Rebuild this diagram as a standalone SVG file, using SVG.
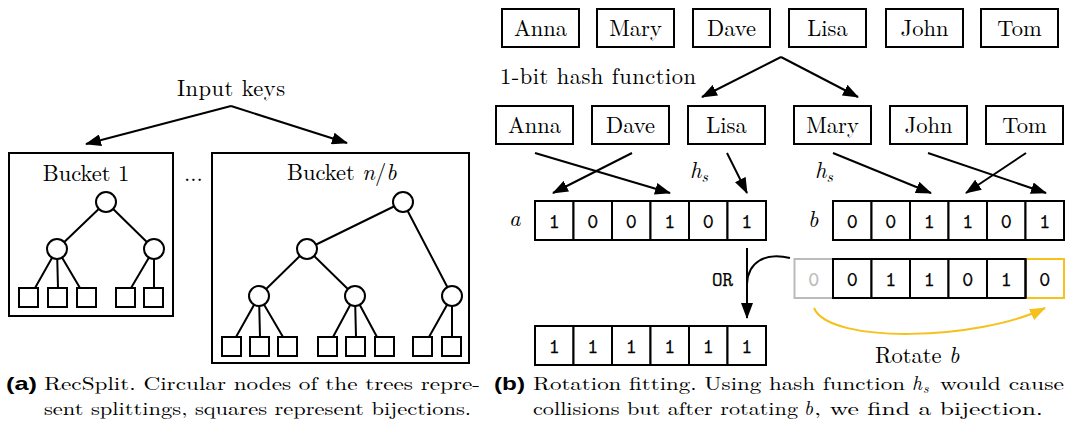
<svg xmlns="http://www.w3.org/2000/svg" width="1070" height="432" viewBox="0 0 1070 432">
  <style>
    .txt { font-family: "Latin Modern Roman", "Liberation Serif", serif; font-size: 22.5px; fill: #000; }
    .it { font-style: italic; }
    .sub { font-family: "Latin Modern Roman", "Liberation Serif", serif; font-style: italic; font-size: 15.5px; }
    .mono { font-family: "Latin Modern Mono", "Liberation Mono", monospace; font-size: 21px; fill: #000; stroke: #000; stroke-width: 0.25px; }
    .cap { font-family: "Latin Modern Roman", "Liberation Serif", serif; font-size: 18px; fill: #000; }
    .capit { font-family: "Latin Modern Roman", "Liberation Serif", serif; font-style: italic; font-size: 19.5px; fill: #000; }
    .capsub { font-family: "Latin Modern Roman", "Liberation Serif", serif; font-style: italic; font-size: 13.5px; fill: #000; }
    .lbl { font-family: "Liberation Sans", Arial, sans-serif; font-weight: bold; font-size: 19px; fill: #000; }
    .box { fill: #fff; stroke: #000; stroke-width: 2; }
    .node { fill: #fff; stroke: #000; stroke-width: 2; }
    .edge { fill: none; stroke: #000; stroke-width: 2; }
    .arrow { fill: none; stroke: #000; stroke-width: 2; marker-end: url(#ah); }
    .yarrow { fill: none; stroke: #F5C11A; stroke-width: 2; marker-end: url(#ahy); }
    .cell { fill: #fff; stroke: #000; stroke-width: 2; }
    .mid { text-anchor: middle; }
  </style>
  <defs>
    <marker id="ah" viewBox="0 0 16 12" refX="15" refY="6" markerWidth="16" markerHeight="12" markerUnits="userSpaceOnUse" orient="auto">
      <path d="M0,0 L16,6 L0,12 z" fill="#000"/>
    </marker>
    <marker id="ahy" viewBox="0 0 16 12" refX="15" refY="6" markerWidth="16" markerHeight="12" markerUnits="userSpaceOnUse" orient="auto">
      <path d="M0,0 L16,6 L0,12 z" fill="#F5C11A"/>
    </marker>
  </defs>

  <!-- ===== Left panel: RecSplit buckets ===== -->
  <g id="connectors-left">
    <path class="arrow" d="M231 106 L86 144"/>
    <path class="arrow" d="M231 106 L347 143"/>
  </g>

  <g id="input-keys">
    <text class="txt mid" x="231" y="96" textLength="108">Input keys</text>
  </g>

  <g id="bucket-1">
    <rect class="box" x="9" y="153" width="164" height="163"/>
    <text class="txt mid" x="86" y="181">Bucket 1</text>
    <g class="tree-edges">
      <path class="edge" d="M106 202 L57 249 M106 202 L154 249"/>
      <path class="edge" d="M57 249 L35 288 M57 249 L58 288 M57 249 L80 288"/>
      <path class="edge" d="M154 249 L131 288 M154 249 L154 288"/>
    </g>
    <circle class="node" cx="106" cy="202" r="10"/>
    <circle class="node" cx="57" cy="249" r="10"/>
    <circle class="node" cx="154" cy="249" r="10"/>
    <rect class="node" x="19" y="288" width="19" height="19"/>
    <rect class="node" x="48" y="288" width="19" height="19"/>
    <rect class="node" x="77" y="288" width="19" height="19"/>
    <rect class="node" x="116" y="288" width="19" height="19"/>
    <rect class="node" x="144" y="288" width="19" height="19"/>
  </g>

  <g id="ellipsis">
    <text class="txt" x="184" y="181">...</text>
  </g>

  <g id="bucket-nb">
    <rect class="box" x="212" y="153" width="257" height="210"/>
    <text class="txt" x="287" y="180">Bucket <tspan class="it">n</tspan>/<tspan class="it">b</tspan></text>
    <g class="tree-edges">
      <path class="edge" d="M403 202 L307 249 M403 202 L452 296"/>
      <path class="edge" d="M307 249 L259 296 M307 249 L355 296"/>
      <path class="edge" d="M259 296 L236 337 M259 296 L260 337 M259 296 L283 337"/>
      <path class="edge" d="M355 296 L333 337 M355 296 L356 337 M355 296 L377 337"/>
      <path class="edge" d="M452 296 L429 337 M452 296 L452 337"/>
    </g>
    <circle class="node" cx="403" cy="202" r="10"/>
    <circle class="node" cx="307" cy="249" r="10"/>
    <circle class="node" cx="259" cy="296" r="10"/>
    <circle class="node" cx="355" cy="296" r="10"/>
    <circle class="node" cx="452" cy="296" r="10"/>
    <rect class="node" x="222" y="337" width="19" height="19"/>
    <rect class="node" x="250" y="337" width="19" height="19"/>
    <rect class="node" x="278" y="337" width="19" height="19"/>
    <rect class="node" x="318" y="337" width="19" height="19"/>
    <rect class="node" x="346" y="337" width="19" height="19"/>
    <rect class="node" x="375" y="337" width="19" height="19"/>
    <rect class="node" x="413" y="337" width="19" height="19"/>
    <rect class="node" x="442" y="337" width="19" height="19"/>
  </g>

  <!-- ===== Right panel: rotation fitting ===== -->
  <g id="connectors-right">
    <path class="arrow" d="M781 57 L702 97"/>
    <path class="arrow" d="M781 57 L858 97"/>
    <path class="arrow" d="M535 153 L670 193"/>
    <path class="arrow" d="M632 153 L553 193"/>
    <path class="arrow" d="M727 153 L747 193"/>
    <path class="arrow" d="M833 153 L931 193"/>
    <path class="arrow" d="M928 153 L1046 193"/>
    <path class="arrow" d="M1026 153 L966 193"/>
    <path class="arrow" d="M747 248 L747 318"/>
    <path class="edge" d="M790 258 C 765 252, 748 262, 747 284"/>
    <path class="yarrow" d="M814 308 C 830 345, 980 340, 1045 308"/>
  </g>

  <g id="keys-top">
    <g id="key-anna-1"><rect class="box" x="502" y="9" width="77" height="38"/><text class="txt mid" x="540.5" y="36">Anna</text></g>
    <g id="key-mary-1"><rect class="box" x="597" y="9" width="77" height="38"/><text class="txt mid" x="635.5" y="36">Mary</text></g>
    <g id="key-dave-1"><rect class="box" x="693" y="9" width="77" height="38"/><text class="txt mid" x="731.5" y="36">Dave</text></g>
    <g id="key-lisa-1"><rect class="box" x="789" y="9" width="77" height="38"/><text class="txt mid" x="827.5" y="36">Lisa</text></g>
    <g id="key-john-1"><rect class="box" x="886" y="9" width="77" height="38"/><text class="txt mid" x="924.5" y="36">John</text></g>
    <g id="key-tom-1"><rect class="box" x="981" y="9" width="77" height="38"/><text class="txt mid" x="1019.5" y="36">Tom</text></g>
  </g>

  <g id="hash-label">
    <text class="txt" x="500" y="84" textLength="196">1-bit hash function</text>
  </g>

  <g id="keys-split">
    <g id="key-anna-2"><rect class="box" x="496" y="106" width="77" height="38"/><text class="txt mid" x="534.5" y="133">Anna</text></g>
    <g id="key-dave-2"><rect class="box" x="592" y="106" width="77" height="38"/><text class="txt mid" x="630.5" y="133">Dave</text></g>
    <g id="key-lisa-2"><rect class="box" x="688" y="106" width="77" height="38"/><text class="txt mid" x="726.5" y="133">Lisa</text></g>
    <g id="key-mary-2"><rect class="box" x="794" y="106" width="77" height="38"/><text class="txt mid" x="832.5" y="133">Mary</text></g>
    <g id="key-john-2"><rect class="box" x="890" y="106" width="77" height="38"/><text class="txt mid" x="928.5" y="133">John</text></g>
    <g id="key-tom-2"><rect class="box" x="986" y="106" width="77" height="38"/><text class="txt mid" x="1024.5" y="133">Tom</text></g>
  </g>

  <g id="hs-labels">
    <text class="txt it" x="690" y="178">h<tspan class="sub" dy="4">s</tspan></text>
    <text class="txt it" x="815" y="178">h<tspan class="sub" dy="4">s</tspan></text>
  </g>

  <!-- bit array a -->
  <g id="array-a">
    <text class="txt it" x="509" y="226">a</text>
    <rect class="cell" x="535" y="201" width="38.5" height="39"/>
    <rect class="cell" x="573.5" y="201" width="38.5" height="39"/>
    <rect class="cell" x="612" y="201" width="38.5" height="39"/>
    <rect class="cell" x="650.5" y="201" width="38.5" height="39"/>
    <rect class="cell" x="689" y="201" width="38.5" height="39"/>
    <rect class="cell" x="727.5" y="201" width="38.5" height="39"/>
    <text class="mono mid" x="554.25" y="227.5">1</text>
    <text class="mono mid" x="592.75" y="227.5">0</text>
    <text class="mono mid" x="631.25" y="227.5">0</text>
    <text class="mono mid" x="669.75" y="227.5">1</text>
    <text class="mono mid" x="708.25" y="227.5">0</text>
    <text class="mono mid" x="746.75" y="227.5">1</text>
  </g>

  <!-- bit array b -->
  <g id="array-b">
    <text class="txt it" x="808" y="227">b</text>
    <rect class="cell" x="833" y="201" width="38.5" height="39"/>
    <rect class="cell" x="871.5" y="201" width="38.5" height="39"/>
    <rect class="cell" x="910" y="201" width="38.5" height="39"/>
    <rect class="cell" x="948.5" y="201" width="38.5" height="39"/>
    <rect class="cell" x="987" y="201" width="38.5" height="39"/>
    <rect class="cell" x="1025.5" y="201" width="38.5" height="39"/>
    <text class="mono mid" x="852.25" y="227.5">0</text>
    <text class="mono mid" x="890.75" y="227.5">0</text>
    <text class="mono mid" x="929.25" y="227.5">1</text>
    <text class="mono mid" x="967.75" y="227.5">1</text>
    <text class="mono mid" x="1006.25" y="227.5">0</text>
    <text class="mono mid" x="1044.75" y="227.5">1</text>
  </g>

  <!-- rotated copy of b -->
  <g id="array-b-rotated">
    <rect x="794.5" y="259" width="38.5" height="39" fill="#fff" stroke="#BBBBBB" stroke-width="2"/>
    <rect x="1025.5" y="259" width="38.5" height="39" fill="#fff" stroke="#F5C11A" stroke-width="2"/>
    <rect class="cell" x="833" y="259" width="38.5" height="39"/>
    <rect class="cell" x="871.5" y="259" width="38.5" height="39"/>
    <rect class="cell" x="910" y="259" width="38.5" height="39"/>
    <rect class="cell" x="948.5" y="259" width="38.5" height="39"/>
    <rect class="cell" x="987" y="259" width="38.5" height="39"/>
    <path d="M1025.5 259 L1025.5 298" stroke="#000" stroke-width="2"/>
    <text class="mono mid" x="813.75" y="285.5" style="fill:#BBBBBB;stroke:#BBBBBB">0</text>
    <text class="mono mid" x="852.25" y="285.5">0</text>
    <text class="mono mid" x="890.75" y="285.5">1</text>
    <text class="mono mid" x="929.25" y="285.5">1</text>
    <text class="mono mid" x="967.75" y="285.5">0</text>
    <text class="mono mid" x="1006.25" y="285.5">1</text>
    <text class="mono mid" x="1044.75" y="285.5">0</text>
  </g>

  <g id="or-label">
    <text class="mono" x="712" y="286" style="font-size:20px">OR</text>
  </g>

  <g id="rotate-label">
    <text class="txt" x="875" y="363">Rotate <tspan class="it">b</tspan></text>
  </g>

  <!-- result of a OR rotated b -->
  <g id="array-result">
    <rect class="cell" x="535" y="326" width="38.5" height="39"/>
    <rect class="cell" x="573.5" y="326" width="38.5" height="39"/>
    <rect class="cell" x="612" y="326" width="38.5" height="39"/>
    <rect class="cell" x="650.5" y="326" width="38.5" height="39"/>
    <rect class="cell" x="689" y="326" width="38.5" height="39"/>
    <rect class="cell" x="727.5" y="326" width="38.5" height="39"/>
    <text class="mono mid" x="554.25" y="352.5">1</text>
    <text class="mono mid" x="592.75" y="352.5">1</text>
    <text class="mono mid" x="631.25" y="352.5">1</text>
    <text class="mono mid" x="669.75" y="352.5">1</text>
    <text class="mono mid" x="708.25" y="352.5">1</text>
    <text class="mono mid" x="746.75" y="352.5">1</text>
  </g>

  <!-- ===== Captions ===== -->
  <g id="caption-a">
    <text class="lbl" x="6" y="390" textLength="31" lengthAdjust="spacingAndGlyphs">(a)</text>
    <text class="cap" x="44" y="390" textLength="436" lengthAdjust="spacingAndGlyphs">RecSplit. Circular nodes of the trees repre-</text>
    <text class="cap" x="44" y="415" textLength="427" lengthAdjust="spacingAndGlyphs">sent splittings, squares represent bijections.</text>
  </g>
  <g id="caption-b">
    <text class="lbl" x="494" y="390" textLength="31" lengthAdjust="spacingAndGlyphs">(b)</text>
    <text class="cap" x="533" y="390" textLength="372" lengthAdjust="spacingAndGlyphs">Rotation fitting. Using hash function</text>
    <text class="capit" x="912" y="390">h</text>
    <text class="capsub" x="923" y="393">s</text>
    <text class="cap" x="940" y="390" textLength="124" lengthAdjust="spacingAndGlyphs">would cause</text>
    <text class="cap" x="533" y="415" textLength="265" lengthAdjust="spacingAndGlyphs">collisions but after rotating</text>
    <text class="capit" x="804" y="415">b</text>
    <text class="cap" x="814" y="415" textLength="229" lengthAdjust="spacingAndGlyphs">, we find a bijection.</text>
  </g>
</svg>
